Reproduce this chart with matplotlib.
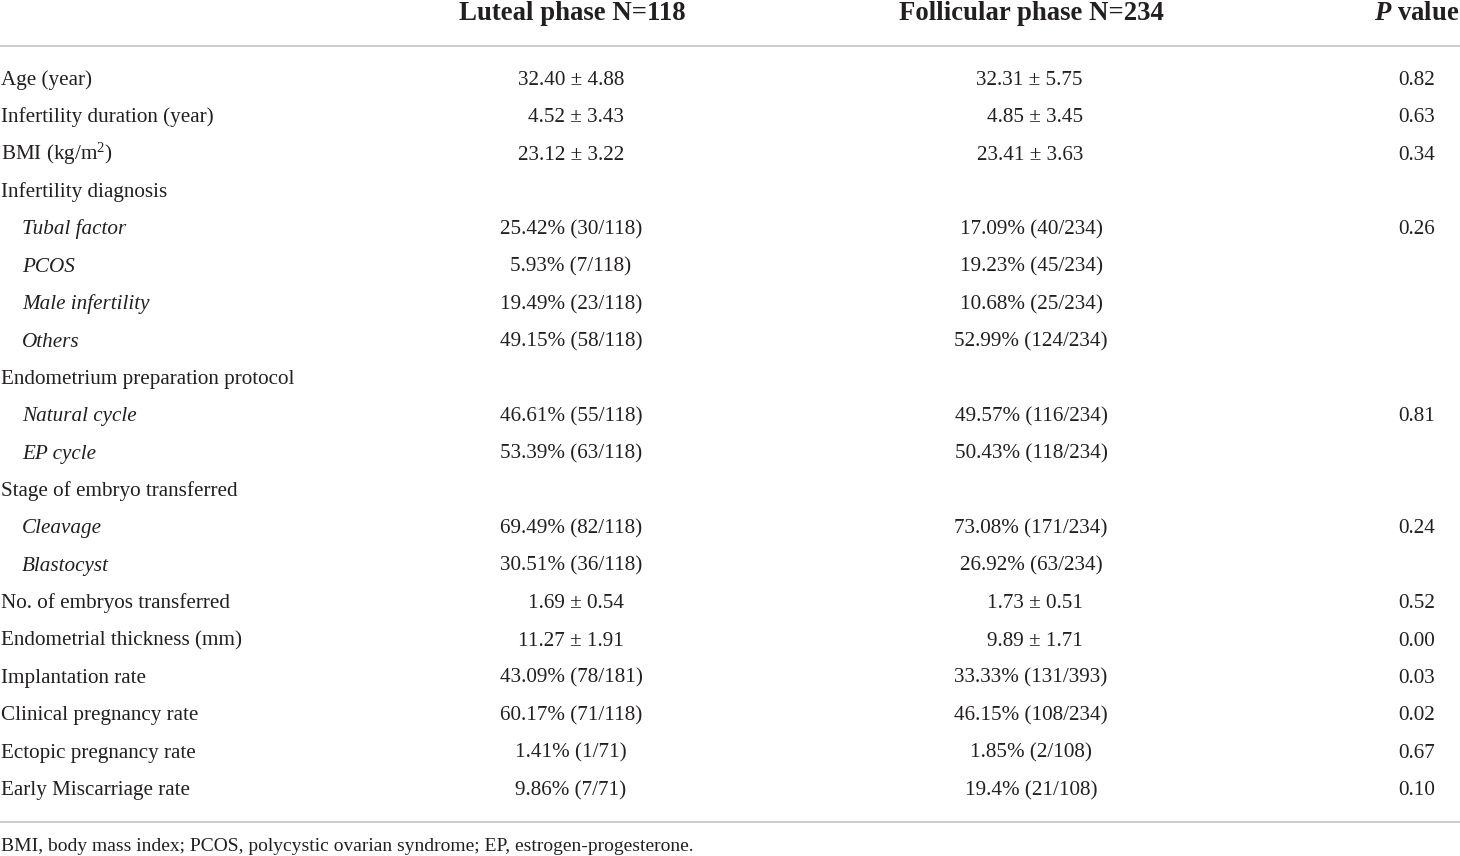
import matplotlib
matplotlib.use("Agg")
import matplotlib.pyplot as plt

plt.rcParams["font.family"] = ["Liberation Serif", "DejaVu Serif"]
plt.rcParams["mathtext.fontset"] = "custom"
plt.rcParams["mathtext.rm"] = "Liberation Serif"
plt.rcParams["mathtext.it"] = "Liberation Serif:italic"
plt.rcParams["mathtext.bf"] = "Liberation Serif:bold"
plt.rcParams["mathtext.bfit"] = "Liberation Serif:italic:bold"

# ---------------------------------------------------
# Table content
# ---------------------------------------------------

headers = ["Luteal phase N=118", "Follicular phase N=234", r"$\mathbfit{P}$ value"]

labels = [
    "Age (year)",
    "Infertility duration (year)",
    "BMI (kg/m$^2$)",
    "Infertility diagnosis",
    "Tubal factor",
    "PCOS",
    "Male infertility",
    "Others",
    "Endometrium preparation protocol",
    "Natural cycle",
    "EP cycle",
    "Stage of embryo transferred",
    "Cleavage",
    "Blastocyst",
    "No. of embryos transferred",
    "Endometrial thickness (mm)",
    "Implantation rate",
    "Clinical pregnancy rate",
    "Ectopic pregnancy rate",
    "Early Miscarriage rate",
]

sub_item = [False, False, False, False, True, True, True, True, False, True,
            True, False, True, True, False, False, False, False, False, False]

luteal = [
    "32.40 ± 4.88", "4.52 ± 3.43", "23.12 ± 3.22", "",
    "25.42% (30/118)", "5.93% (7/118)", "19.49% (23/118)", "49.15% (58/118)", "",
    "46.61% (55/118)", "53.39% (63/118)", "",
    "69.49% (82/118)", "30.51% (36/118)",
    "1.69 ± 0.54", "11.27 ± 1.91",
    "43.09% (78/181)", "60.17% (71/118)", "1.41% (1/71)", "9.86% (7/71)",
]

follicular = [
    "32.31 ± 5.75", "4.85 ± 3.45", "23.41 ± 3.63", "",
    "17.09% (40/234)", "19.23% (45/234)", "10.68% (25/234)", "52.99% (124/234)", "",
    "49.57% (116/234)", "50.43% (118/234)", "",
    "73.08% (171/234)", "26.92% (63/234)",
    "1.73 ± 0.51", "9.89 ± 1.71",
    "33.33% (131/393)", "46.15% (108/234)", "1.85% (2/108)", "19.4% (21/108)",
]

p_values = ["0.82", "0.63", "0.34", "", "0.26", "", "", "", "", "0.81", "",
            "", "0.24", "", "0.52", "0.00", "0.03", "0.02", "0.67", "0.10"]

footnote = "BMI, body mass index; PCOS, polycystic ovarian syndrome; EP, estrogen-progesterone."

# ---------------------------------------------------
# Layout (pixel space)
# ---------------------------------------------------

W, H = 1460, 856
fig = plt.figure(figsize=(W / 100, H / 100), dpi=100)
ax = fig.add_axes([0, 0, 1, 1])
ax.set_xlim(0, W)
ax.set_ylim(H, 0)
ax.axis("off")

FS = 15.2
HFS = 19.3
TEXT = "#231f20"
RULE = "#c8c8c8"

head_y = 20
ax.text(572, head_y, headers[0], ha="center", va="baseline", fontsize=HFS,
        fontweight="bold", color=TEXT)
ax.text(1031, head_y, headers[1], ha="center", va="baseline", fontsize=HFS,
        fontweight="bold", color=TEXT)
ax.text(1459, head_y, headers[2], ha="right", va="baseline", fontsize=HFS,
        fontweight="bold", color=TEXT)

ax.plot([0, W], [46, 46], color=RULE, linewidth=1.3)
ax.plot([0, W], [822, 822], color=RULE, linewidth=1.3)

row_y0 = 85
row_step = (795 - 85) / 19

for i, label in enumerate(labels):
    y = row_y0 + i * row_step
    if sub_item[i]:
        ax.text(22, y, label, ha="left", va="baseline", fontsize=FS,
                style="italic", color=TEXT)
    else:
        ax.text(1, y, label, ha="left", va="baseline", fontsize=FS, color=TEXT)

    for val, c_center, c_right in ((luteal[i], 571, 624), (follicular[i], 1031, 1083)):
        if not val:
            continue
        if "±" in val:
            ax.text(c_right, y, val, ha="right", va="baseline", fontsize=FS, color=TEXT)
        else:
            ax.text(c_center, y, val, ha="center", va="baseline", fontsize=FS, color=TEXT)

    if p_values[i]:
        ax.text(1435, y, p_values[i], ha="right", va="baseline", fontsize=FS, color=TEXT)

ax.text(1, 851, footnote, ha="left", va="baseline", fontsize=14.0, color=TEXT)

fig.savefig("out.png", dpi=100, facecolor="white")
